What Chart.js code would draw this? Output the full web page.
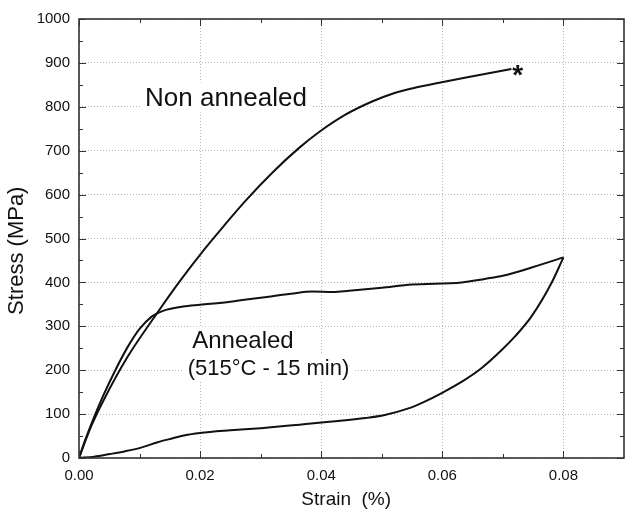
<!DOCTYPE html>
<html><head><meta charset="utf-8">
<script src="https://cdn.jsdelivr.net/npm/chart.js@4.4.1/dist/chart.umd.min.js"></script>
<style>html,body{margin:0;padding:0;background:#fff;overflow:hidden}canvas{display:block}</style>
</head><body>
<canvas id="c" width="625" height="511"></canvas>
<script>
const FONT = '"Liberation Sans", Arial, Helvetica, sans-serif';

// Non annealed tensile curve (strain %, stress MPa)
const nonAnnealedStrain = [0, 0.002, 0.004, 0.008, 0.0128, 0.0165, 0.0205, 0.024, 0.0273, 0.032, 0.0364, 0.0396, 0.044, 0.0484, 0.052, 0.056, 0.0599, 0.0648, 0.0714];
const nonAnnealedStress = [0, 72, 130, 230, 328, 400, 472, 530, 583, 651, 707, 742, 782, 812, 831, 845, 856, 869, 886];

// Annealed (515°C - 15 min): loading branch
const annealedLoadStrain = [0, 0.001, 0.002, 0.003, 0.004, 0.006, 0.008, 0.010, 0.012, 0.013, 0.0145, 0.0172, 0.020, 0.025, 0.030, 0.035, 0.0385, 0.042, 0.0446, 0.050, 0.055, 0.0632, 0.067, 0.070, 0.075, 0.080];
const annealedLoadStress = [0, 40, 76, 110, 142, 200, 252, 294, 322, 330, 338, 345, 349, 356, 365, 374, 379, 378, 381, 388, 395, 400, 408, 415, 435, 457];
// Annealed (515°C - 15 min): unloading branch (listed from origin to the loop tip)
const annealedUnloadStrain = [0, 0.0025, 0.0051, 0.0075, 0.0101, 0.013, 0.0155, 0.0175, 0.020, 0.025, 0.030, 0.0364, 0.0418, 0.0473, 0.0505, 0.0544, 0.057, 0.0599, 0.0637, 0.0665, 0.0698, 0.072, 0.0747, 0.078, 0.080];
const annealedUnloadStress = [0, 3, 9, 15, 23, 36, 45, 52, 57, 63, 68, 76, 83, 91, 98, 113, 128, 148, 178, 205, 246, 277, 322, 398, 457];

// Fracture marker of the non annealed specimen
const fractureMark = { strain: 0.0723, stress: 881, symbol: '*' };

// Axis ranges / tick steps
const xRange = [0, 0.09], xStep = 0.02;
const yRange = [0, 1000], yStep = 100;

// Text annotations (anchored in data coordinates)
const annotations = [
  { text: 'Non annealed', strain: 0.0109, stress: 802, size: 26 },
  { text: 'Annealed', strain: 0.0187, stress: 250, size: 24 },
  { text: '(515°C - 15 min)', strain: 0.01795, stress: 189.5, size: 22 }
];

const toPts = (xs, ys) => xs.map((v, i) => ({ x: v, y: ys[i] }));

const framePlugin = {
  id: 'frame',
  beforeDatasetsDraw(chart) {
    const { ctx, scales: { x, y } } = chart;
    ctx.save();
    ctx.fillStyle = '#fff';
    annotations.forEach(a => {
      ctx.font = a.size + 'px ' + FONT;
      const px = x.getPixelForValue(a.strain), py = y.getPixelForValue(a.stress);
      const w = ctx.measureText(a.text).width;
      ctx.fillRect(px - 4, py - a.size * 0.9, w + 8, a.size * 1.15);
    });
    ctx.restore();
  },
  afterDatasetsDraw(chart) {
    const { ctx, scales: { x, y } } = chart;
    ctx.save();
    ctx.fillStyle = '#111';
    ctx.textAlign = 'left';
    ctx.textBaseline = 'alphabetic';
    annotations.forEach(a => {
      ctx.font = a.size + 'px ' + FONT;
      ctx.fillText(a.text, x.getPixelForValue(a.strain), y.getPixelForValue(a.stress));
    });
    ctx.font = 'bold 28px ' + FONT;
    ctx.textAlign = 'center';
    ctx.fillText(fractureMark.symbol, x.getPixelForValue(fractureMark.strain) + 1, y.getPixelForValue(fractureMark.stress) + 13);
    ctx.restore();
  },
  afterDraw(chart) {
    const { ctx, chartArea: a, scales: { x, y } } = chart;
    ctx.save();
    ctx.strokeStyle = '#333';
    ctx.lineWidth = 1;
    const MAJ = 7, MIN = 4;
    ctx.beginPath();
    for (let v = xRange[0]; v <= xRange[1] + 1e-9; v += xStep / 2) {
      const px = Math.round(x.getPixelForValue(v)) + 0.5;
      if (px > a.right - 1) continue;
      const k = Math.abs(v / xStep - Math.round(v / xStep)) < 1e-6;
      const len = k ? MAJ : MIN;
      ctx.moveTo(px, a.bottom); ctx.lineTo(px, a.bottom - len);
      ctx.moveTo(px, a.top); ctx.lineTo(px, a.top + len);
    }
    for (let v = yRange[0]; v <= yRange[1] + 1e-9; v += yStep / 2) {
      const py = Math.round(y.getPixelForValue(v)) + 0.5;
      const k = Math.abs(v / yStep - Math.round(v / yStep)) < 1e-6;
      const len = k ? MAJ : MIN;
      ctx.moveTo(a.left, py); ctx.lineTo(a.left + len, py);
      ctx.moveTo(a.right, py); ctx.lineTo(a.right - len, py);
    }
    ctx.stroke();
    ctx.lineWidth = 1.6;
    ctx.strokeRect(a.left, a.top, a.right - a.left, a.bottom - a.top);
    ctx.restore();
  }
};

const lineStyle = { showLine: true, borderColor: '#111', borderWidth: 2, pointRadius: 0, cubicInterpolationMode: 'monotone', fill: false };

new Chart(document.getElementById('c'), {
  type: 'scatter',
  data: {
    datasets: [
      Object.assign({ label: 'Non annealed', data: toPts(nonAnnealedStrain, nonAnnealedStress) }, lineStyle),
      Object.assign({ label: 'Annealed (515°C - 15 min) loading', data: toPts(annealedLoadStrain, annealedLoadStress) }, lineStyle),
      Object.assign({ label: 'Annealed (515°C - 15 min) unloading', data: toPts(annealedUnloadStrain, annealedUnloadStress) }, lineStyle)
    ]
  },
  options: {
    responsive: false,
    animation: false,
    devicePixelRatio: 1,
    layout: { padding: { top: 19, right: 1, left: 0, bottom: 0 } },
    plugins: { legend: { display: false }, tooltip: { enabled: false } },
    scales: {
      x: {
        type: 'linear', min: xRange[0], max: xRange[1],
        ticks: { stepSize: xStep, includeBounds: false, padding: 9, color: '#111', font: { family: FONT, size: 15 }, callback: v => v.toFixed(2) },
        grid: { color: '#b5b5b5', lineWidth: 1, drawTicks: false },
        border: { display: false, dash: [1, 2] },
        title: { display: true, text: 'Strain  (%)  ', color: '#111', font: { family: FONT, size: 19 }, padding: { top: 0, bottom: 0 } },
        afterFit(s) { s.height = 53; }
      },
      y: {
        type: 'linear', min: yRange[0], max: yRange[1],
        ticks: { stepSize: yStep, padding: 9, color: '#111', font: { family: FONT, size: 15 }, callback: v => String(Math.round(v)) },
        grid: { color: '#b5b5b5', lineWidth: 1, drawTicks: false },
        border: { display: false, dash: [1, 2] },
        title: { display: true, text: 'Stress (MPa)    ', color: '#111', font: { family: FONT, size: 22 }, padding: { top: 4, bottom: 0 } },
        afterFit(s) { s.width = 79; }
      }
    }
  },
  plugins: [framePlugin]
});
</script>
</body></html>
